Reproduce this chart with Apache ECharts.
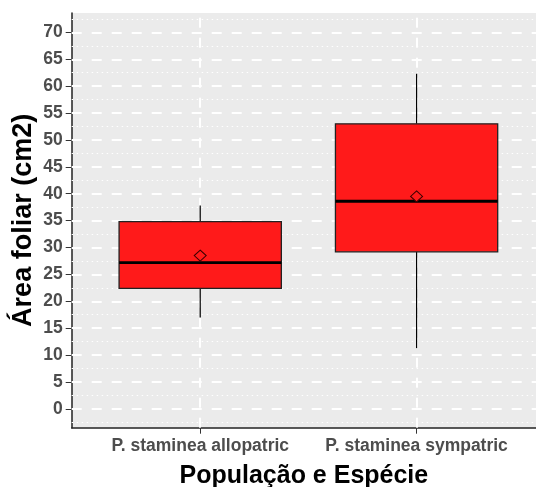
<!DOCTYPE html>
<html>
<head>
<meta charset="utf-8">
<script src="https://cdn.jsdelivr.net/npm/echarts@6/dist/echarts.min.js"></script>
<style>html,body{margin:0;padding:0;background:#fff}#c{width:536px;height:487px}</style>
</head>
<body>
<div id="c"></div>
<script>
const categories = ['P. staminea allopatric', 'P. staminea sympatric'];
const whiskerLow = [17.0, 11.3];
const q1 = [22.4, 29.2];
const medians = [27.2, 38.6];
const q3 = [34.8, 53.0];
const whiskerHigh = [37.8, 62.3];
const means = [28.5, 39.5];
const yTicks = [0, 5, 10, 15, 20, 25, 30, 35, 40, 45, 50, 55, 60, 65, 70];
const yMinor = [-2.5, 2.5, 7.5, 12.5, 17.5, 22.5, 27.5, 32.5, 37.5, 42.5, 47.5, 52.5, 57.5, 62.5, 67.5, 72.5];
const xTicks = [1, 2];

const boxData = categories.map((c, i) => [i + 1, whiskerLow[i], q1[i], medians[i], q3[i], whiskerHigh[i]]);
const meanData = categories.map((c, i) => [i + 1, means[i]]);
const BOX_W = 0.75;

const chart = echarts.init(document.getElementById('c'));
const FONT = 'Liberation Sans, Arial, sans-serif';
const labelFont = { color: '#4D4D4D', fontWeight: 'bold', fontSize: 17.5, fontFamily: FONT };
chart.setOption({
  animation: false,
  grid: { left: 71.7, top: 13, right: 0, bottom: 59.3, outerBoundsMode: 'none', containLabel: false, show: true, backgroundColor: '#EBEBEB', borderWidth: 0 },
  xAxis: {
    type: 'value', min: 0.406, max: 2.552,
    name: 'População e Espécie', nameLocation: 'middle', nameGap: 36,
    nameTextStyle: { color: '#000', fontWeight: 'bold', fontSize: 25, fontFamily: FONT, align: 'center' },
    axisLine: { show: true, onZero: false, lineStyle: { color: '#222', width: 1.5 } },
    axisTick: { show: true, customValues: xTicks, length: 6, lineStyle: { color: '#333', width: 1 } },
    axisLabel: Object.assign({ customValues: xTicks, margin: 9, formatter: v => categories[Math.round(v) - 1] || '' }, labelFont),
    splitLine: { show: false }
  },
  yAxis: {
    type: 'value', min: -3.5, max: 73.6,
    name: 'Área foliar (cm2)', nameLocation: 'middle', nameGap: 35, nameMoveOverlap: false,
    nameTextStyle: { color: '#000', fontWeight: 'bold', fontSize: 27, fontFamily: FONT },
    axisLine: { show: true, onZero: false, lineStyle: { color: '#222', width: 1.5 } },
    axisTick: { show: true, customValues: yTicks, length: 6, lineStyle: { color: '#333', width: 1 } },
    axisLabel: Object.assign({ customValues: yTicks, margin: 9 }, labelFont),
    splitLine: { show: false }
  },
  series: [
    {
      type: 'line', data: [], z: 1, silent: true,
      markLine: {
        z: 1, silent: true, symbol: ['none', 'none'], label: { show: false }, animation: false,
        data: [].concat(
          yMinor.map(v => ({ yAxis: v, lineStyle: { color: '#FFFFFF', width: 1, type: [1.5, 3.5], opacity: 1 } })),
          yTicks.map(v => ({ yAxis: v, lineStyle: { color: '#FFFFFF', width: 2, type: [10, 10], opacity: 1 } })),
          xTicks.map(v => ({ xAxis: v, lineStyle: { color: '#FFFFFF', width: 2, type: [10, 10], opacity: 1 } }))
        )
      }
    },
    {
      type: 'custom', z: 10, silent: true,
      data: boxData,
      encode: { x: 0, y: [1, 2, 3, 4, 5] },
      renderItem: function (params, api) {
        const x = api.value(0);
        const lo = api.coord([x, api.value(1)]);
        const a = api.coord([x, api.value(2)]);
        const md = api.coord([x, api.value(3)]);
        const b = api.coord([x, api.value(4)]);
        const hi = api.coord([x, api.value(5)]);
        const hw = api.size([BOX_W, 0])[0] / 2;
        return {
          type: 'group', children: [
            { type: 'line', shape: { x1: lo[0], y1: lo[1], x2: a[0], y2: a[1] }, style: { stroke: '#000000', lineWidth: 1.2 } },
            { type: 'line', shape: { x1: b[0], y1: b[1], x2: hi[0], y2: hi[1] }, style: { stroke: '#000000', lineWidth: 1.2 } },
            { type: 'rect', shape: { x: b[0] - hw, y: b[1], width: 2 * hw, height: a[1] - b[1] }, style: { fill: '#FF1A1A', stroke: '#222222', lineWidth: 1.3 } },
            { type: 'line', shape: { x1: md[0] - hw, y1: md[1], x2: md[0] + hw, y2: md[1] }, style: { stroke: '#000000', lineWidth: 2.8 } }
          ]
        };
      }
    },
    {
      type: 'scatter', z: 12, silent: true,
      data: meanData,
      symbol: 'diamond', symbolSize: [12, 11],
      itemStyle: { color: '#FF1A1A', borderColor: '#3A0000', borderWidth: 1, opacity: 1 }
    }
  ]
});
</script>
</body>
</html>
